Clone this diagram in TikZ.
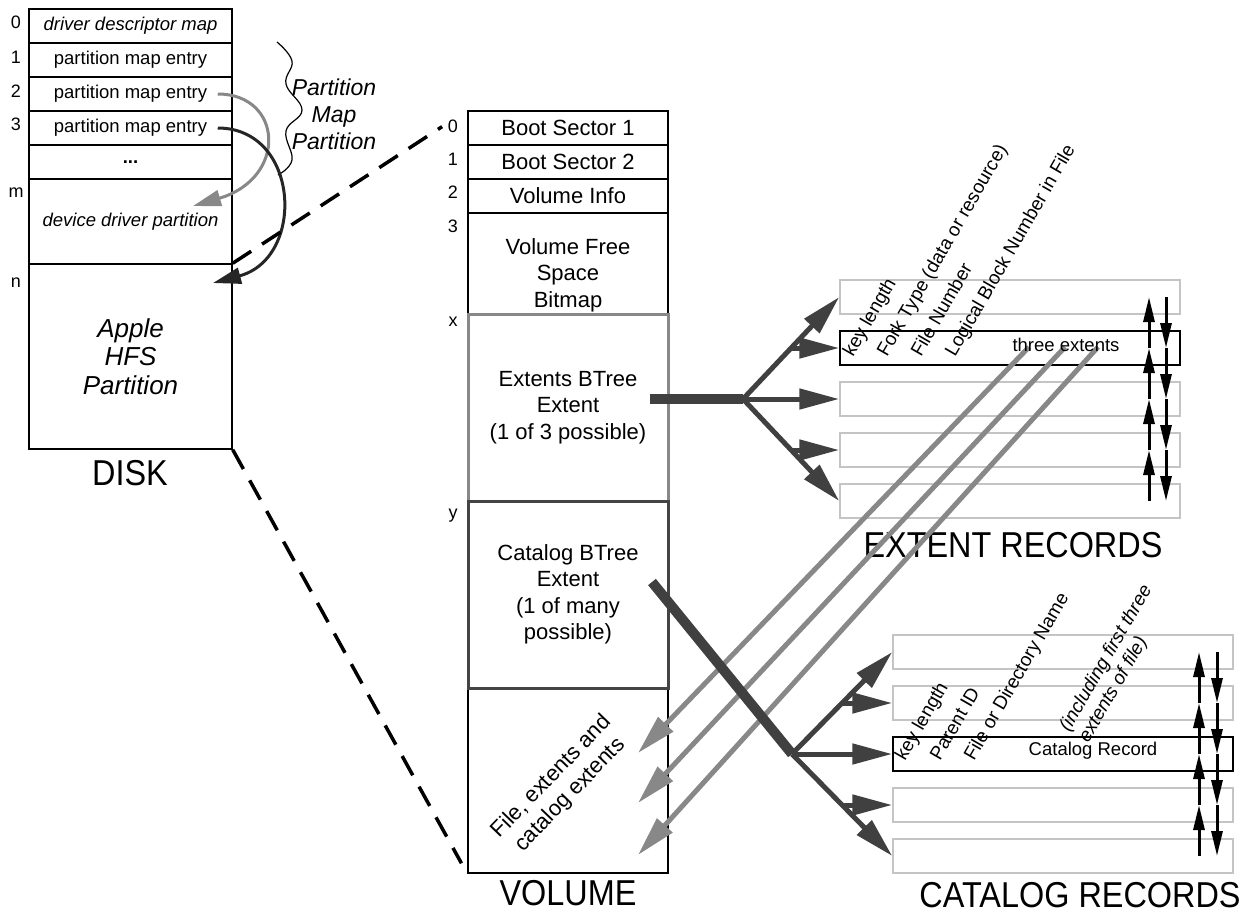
\documentclass[tikz,border=0pt]{standalone}
\usepackage{fontspec}
\setmainfont{Liberation Sans}
\newfontfamily\titlefont[FakeStretch=0.9]{Liberation Sans}
\usetikzlibrary{arrows.meta, calc, decorations.pathreplacing}

\definecolor{darkarrow}{HTML}{404040}
\definecolor{midgray}{HTML}{888888}
\definecolor{recgray}{HTML}{C4C4C4}
\definecolor{catgray}{HTML}{444444}

\begin{document}
\begin{tikzpicture}[
    x=1pt, y=-1pt,
    cell/.style={
        rectangle,
        draw,
        line width=1.5pt,
        minimum width=203pt,
        minimum height=34pt,
        inner sep=0pt,
        align=center,
        font=\fontsize{18.5}{22}\selectfont
    },
    volcell/.style={
        rectangle,
        draw,
        line width=1.5pt,
        minimum width=200pt,
        minimum height=34pt,
        inner sep=0pt,
        align=center,
        font=\fontsize{22}{26.5}\selectfont
    },
    idx/.style={anchor=base, inner sep=0pt, font=\fontsize{18}{20}\selectfont},
    record/.style={rectangle, line width=1.5pt, minimum width=340pt, minimum height=34pt, inner sep=0pt},
    field/.style={anchor=base west, inner sep=0pt, rotate=60, font=\fontsize{19}{22}\selectfont},
    title/.style={inner sep=0pt, font=\titlefont\fontsize{36}{38}\selectfont},
    fork/.style={draw=darkarrow, line width=5pt, -{Triangle[length=40pt,width=20pt]}},
    link/.style={line width=3pt, -{Triangle[length=25pt,width=11pt]}},
    extlink/.style={draw=midgray, line width=5pt, -{Triangle[length=40pt,width=20pt]}},
    zoomline/.style={line width=3.5pt, dash pattern=on 22pt off 13pt}
]
\useasboundingbox (0,0) rectangle (1256,914);

% disk
\node[cell, font=\fontsize{18.5}{22}\selectfont\itshape] (ddm) at (130.5,26) {driver descriptor map};
\node[cell] (pme1) at (130.5,60) {partition map entry};
\node[cell] (pme2) at (130.5,94) {partition map entry};
\node[cell] (pme3) at (130.5,128) {partition map entry};
\node[cell] (dots) at (130.5,162) {\textbf{...}};
\node[cell, minimum height=85pt, font=\fontsize{18.5}{22}\selectfont\itshape] (ddp) at (130.5,221.5) {device driver partition};
\node[cell, minimum height=185pt, font=\fontsize{26}{28.5}\selectfont\itshape] (hfs) at (130.5,356.5) {Apple\\HFS\\Partition};
\node[title] (disk) at (130,473) {DISK};

\node[idx] (d0) at (16,28) {0};
\node[idx] (d1) at (16,63) {1};
\node[idx] (d2) at (16,97) {2};
\node[idx] (d3) at (16,130) {3};
\node[idx] (dm) at (16,197) {m};
\node[idx] (dn) at (16,287) {n};

% wavy brace
\draw[line width=1.2pt] plot[smooth, tension=0.7] coordinates {(277,42) (292,61) (286,84) (302,110) (286,131) (292,160) (278,175)};
\node[align=center, font=\fontsize{23}{27}\selectfont\itshape] (pmp) at (334,114) {Partition\\Map\\Partition};

\coordinate (ddtip) at (193,206);
\coordinate (hfstip) at (213,283);
\draw[midgray, line width=3pt, -{Triangle[length=28pt,width=16pt]}]
    ([xshift=-15pt]pme2.east) .. controls (283,94) and (288,178) .. (ddtip);
\draw[black!85, line width=3pt, -{Triangle[length=28pt,width=16pt]}]
    ([xshift=-15pt]pme3.east) .. controls (300,128) and (306,258) .. (hfstip);

% volume
\node[volcell] (bs1) at (568,128) {Boot Sector 1};
\node[volcell] (bs2) at (568,162) {Boot Sector 2};
\node[volcell] (vinfo) at (568,196) {Volume Info};
\node[volcell, minimum height=101pt] (bitmap) at (568,263.5) {};
\node[align=center, font=\fontsize{22}{26.5}\selectfont] (bitmaptxt) at (568,275) {Volume Free\\Space\\Bitmap};
\node[volcell, minimum height=185pt] (filebox) at (568,780.5) {};
\node[volcell, minimum height=187pt, draw=midgray, line width=3pt] (extbox) at (568,407.5) {Extents BTree\\Extent\\(1 of 3 possible)};
\node[volcell, minimum height=187pt, draw=catgray, line width=3pt] (catbox) at (568,594.5) {Catalog BTree\\Extent\\(1 of many\\possible)};
\node[align=center, rotate=46, font=\fontsize{22}{26}\selectfont] (filetxt) at (561,786) {File, extents and\\catalog extents};
\node[title] (volume) at (568,893) {VOLUME};

\node[idx] (v0) at (453,132) {0};
\node[idx] (v1) at (453,165) {1};
\node[idx] (v2) at (453,198) {2};
\node[idx] (v3) at (453,232) {3};
\node[idx] (vx) at (453,326) {x};
\node[idx] (vy) at (453,518) {y};

\draw[zoomline, shorten >=30pt] (hfs.north east) -- (bs1.north west);
\draw[zoomline, shorten >=12pt] (hfs.south east) -- (filebox.south west);

% extent records
\foreach \i/\y/\c in {1/297/recgray, 2/348/black, 3/399/recgray, 4/450/recgray, 5/501/recgray}
    \node[record, draw=\c] (ext\i) at (1010,\y) {};
\node[title] (exttitle) at (1013,545) {EXTENT RECORDS};

% catalog records
\foreach \i/\y/\c in {1/652/recgray, 2/703/recgray, 3/754/black, 4/805/recgray, 5/856/recgray}
    \node[record, draw=\c] (cat\i) at (1063,\y) {};
\node[title] (cattitle) at (1080,895) {CATALOG RECORDS};

% extents pointing back into the volume
\coordinate (te1) at (1029,347);
\coordinate (te2) at (1065,347);
\coordinate (te3) at (1098,347);
\coordinate (fe1) at (638,753);
\coordinate (fe2) at (638,803);
\coordinate (fe3) at (638,855);
\foreach \i in {1,2,3}
    \draw[extlink] (te\i) -- (fe\i);

% btree fan-out
\coordinate (extsrc) at (650,399);
\coordinate (extfork) at (743,399);
\draw[darkarrow, line width=10pt] (extsrc) -- (extfork);
\draw[fork] (extfork) -- (ext1.west);
\draw[fork] (extfork) -- (ext3.west);
\draw[fork] (extfork) -- (ext5.west);
\draw[fork] ($(extfork)!.5!(ext1.west)$) -- (ext2.west);
\draw[fork] ($(extfork)!.5!(ext5.west)$) -- (ext4.west);

\coordinate (catsrc) at (652,582);
\coordinate (catfork) at (792,754);
\draw[darkarrow, line width=10pt] (catsrc) -- (catfork);
\draw[fork] (catfork) -- (cat1.west);
\draw[fork] (catfork) -- (cat3.west);
\draw[fork] (catfork) -- (cat5.west);
\draw[fork] ($(catfork)!.5!(cat1.west)$) -- (cat2.west);
\draw[fork] ($(catfork)!.5!(cat5.west)$) -- (cat4.west);

% sibling links
\coordinate (extup) at (1149,0);
\coordinate (extdn) at (1166,0);
\coordinate (catup) at (1199,0);
\coordinate (catdn) at (1217,0);
\foreach \a/\b in {5/4,4/3,3/2,2/1} {
    \draw[link] (ext\a.center -| extup) -- (ext\b.center -| extup);
    \draw[link] (cat\a.center -| catup) -- (cat\b.center -| catup);
}
\foreach \a/\b in {1/2,2/3,3/4,4/5} {
    \draw[link] (ext\a.center -| extdn) -- (ext\b.center -| extdn);
    \draw[link] (cat\a.center -| catdn) -- (cat\b.center -| catdn);
}

% record fields
\node[font=\fontsize{18.5}{22}\selectfont] (threeext) at (1066,345) {three extents};
\node[field] (fkey) at (853,358) {key length};
\node[field] (ffork) at (887,358) {Fork Type (data or resource)};
\node[field] (ffile) at (921,358) {File Number};
\node[field] (fblock) at (955,358) {Logical Block Number in File};

\node[font=\fontsize{18.5}{22}\selectfont] (catrec) at (1093,751) {Catalog Record};
\node[field] (ckey) at (905,762) {key length};
\node[field] (cparent) at (940,762) {Parent ID};
\node[field] (cname) at (974,762) {File or Directory Name};
\node[field, anchor=north west, align=left, font=\fontsize{19}{22}\selectfont\itshape] (cdata) at (1057,726) {(including first three\\extents of file)};

\end{tikzpicture}
\end{document}
